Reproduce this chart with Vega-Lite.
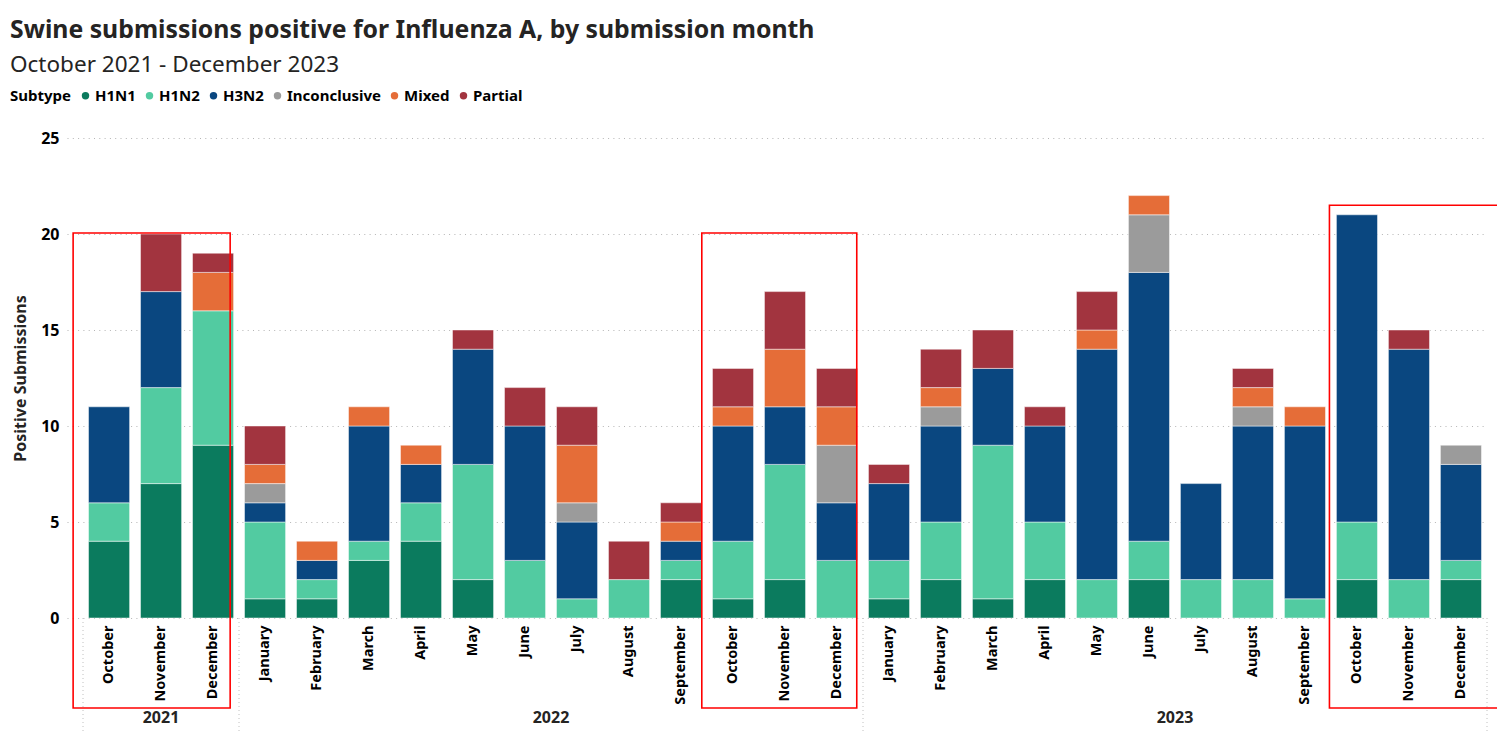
{
  "$schema": "https://vega.github.io/schema/vega-lite/v6.json",
  "autosize": "none",
  "width": 1420,
  "height": 480,
  "padding": {"left": 67, "top": 138, "right": 10, "bottom": 116},
  "background": "white",
  "config": {
    "view": {"stroke": null},
    "font": "Noto Sans",
    "title": {"anchor": "start", "frame": "group"}
  },
  "title": {
    "text": "Swine submissions positive for Influenza A, by submission month",
    "subtitle": "October 2021 - December 2023",
    "fontSize": 24.8,
    "fontWeight": "bold",
    "color": "#252423",
    "subtitleFontSize": 22.5,
    "subtitleColor": "#252423",
    "subtitleFontWeight": "normal",
    "subtitlePadding": 11,
    "dx": -57,
    "offset": 12
  },
  "datasets": {
    "bars": [
      {"period": "October 2021", "subtype": "H1N1", "count": 4},
      {"period": "October 2021", "subtype": "H1N2", "count": 2},
      {"period": "October 2021", "subtype": "H3N2", "count": 5},
      {"period": "November 2021", "subtype": "H1N1", "count": 7},
      {"period": "November 2021", "subtype": "H1N2", "count": 5},
      {"period": "November 2021", "subtype": "H3N2", "count": 5},
      {"period": "November 2021", "subtype": "Partial", "count": 3},
      {"period": "December 2021", "subtype": "H1N1", "count": 9},
      {"period": "December 2021", "subtype": "H1N2", "count": 7},
      {"period": "December 2021", "subtype": "Mixed", "count": 2},
      {"period": "December 2021", "subtype": "Partial", "count": 1},
      {"period": "January 2022", "subtype": "H1N1", "count": 1},
      {"period": "January 2022", "subtype": "H1N2", "count": 4},
      {"period": "January 2022", "subtype": "H3N2", "count": 1},
      {"period": "January 2022", "subtype": "Inconclusive", "count": 1},
      {"period": "January 2022", "subtype": "Mixed", "count": 1},
      {"period": "January 2022", "subtype": "Partial", "count": 2},
      {"period": "February 2022", "subtype": "H1N1", "count": 1},
      {"period": "February 2022", "subtype": "H1N2", "count": 1},
      {"period": "February 2022", "subtype": "H3N2", "count": 1},
      {"period": "February 2022", "subtype": "Mixed", "count": 1},
      {"period": "March 2022", "subtype": "H1N1", "count": 3},
      {"period": "March 2022", "subtype": "H1N2", "count": 1},
      {"period": "March 2022", "subtype": "H3N2", "count": 6},
      {"period": "March 2022", "subtype": "Mixed", "count": 1},
      {"period": "April 2022", "subtype": "H1N1", "count": 4},
      {"period": "April 2022", "subtype": "H1N2", "count": 2},
      {"period": "April 2022", "subtype": "H3N2", "count": 2},
      {"period": "April 2022", "subtype": "Mixed", "count": 1},
      {"period": "May 2022", "subtype": "H1N1", "count": 2},
      {"period": "May 2022", "subtype": "H1N2", "count": 6},
      {"period": "May 2022", "subtype": "H3N2", "count": 6},
      {"period": "May 2022", "subtype": "Partial", "count": 1},
      {"period": "June 2022", "subtype": "H1N2", "count": 3},
      {"period": "June 2022", "subtype": "H3N2", "count": 7},
      {"period": "June 2022", "subtype": "Partial", "count": 2},
      {"period": "July 2022", "subtype": "H1N2", "count": 1},
      {"period": "July 2022", "subtype": "H3N2", "count": 4},
      {"period": "July 2022", "subtype": "Inconclusive", "count": 1},
      {"period": "July 2022", "subtype": "Mixed", "count": 3},
      {"period": "July 2022", "subtype": "Partial", "count": 2},
      {"period": "August 2022", "subtype": "H1N2", "count": 2},
      {"period": "August 2022", "subtype": "Partial", "count": 2},
      {"period": "September 2022", "subtype": "H1N1", "count": 2},
      {"period": "September 2022", "subtype": "H1N2", "count": 1},
      {"period": "September 2022", "subtype": "H3N2", "count": 1},
      {"period": "September 2022", "subtype": "Mixed", "count": 1},
      {"period": "September 2022", "subtype": "Partial", "count": 1},
      {"period": "October 2022", "subtype": "H1N1", "count": 1},
      {"period": "October 2022", "subtype": "H1N2", "count": 3},
      {"period": "October 2022", "subtype": "H3N2", "count": 6},
      {"period": "October 2022", "subtype": "Mixed", "count": 1},
      {"period": "October 2022", "subtype": "Partial", "count": 2},
      {"period": "November 2022", "subtype": "H1N1", "count": 2},
      {"period": "November 2022", "subtype": "H1N2", "count": 6},
      {"period": "November 2022", "subtype": "H3N2", "count": 3},
      {"period": "November 2022", "subtype": "Mixed", "count": 3},
      {"period": "November 2022", "subtype": "Partial", "count": 3},
      {"period": "December 2022", "subtype": "H1N2", "count": 3},
      {"period": "December 2022", "subtype": "H3N2", "count": 3},
      {"period": "December 2022", "subtype": "Inconclusive", "count": 3},
      {"period": "December 2022", "subtype": "Mixed", "count": 2},
      {"period": "December 2022", "subtype": "Partial", "count": 2},
      {"period": "January 2023", "subtype": "H1N1", "count": 1},
      {"period": "January 2023", "subtype": "H1N2", "count": 2},
      {"period": "January 2023", "subtype": "H3N2", "count": 4},
      {"period": "January 2023", "subtype": "Partial", "count": 1},
      {"period": "February 2023", "subtype": "H1N1", "count": 2},
      {"period": "February 2023", "subtype": "H1N2", "count": 3},
      {"period": "February 2023", "subtype": "H3N2", "count": 5},
      {"period": "February 2023", "subtype": "Inconclusive", "count": 1},
      {"period": "February 2023", "subtype": "Mixed", "count": 1},
      {"period": "February 2023", "subtype": "Partial", "count": 2},
      {"period": "March 2023", "subtype": "H1N1", "count": 1},
      {"period": "March 2023", "subtype": "H1N2", "count": 8},
      {"period": "March 2023", "subtype": "H3N2", "count": 4},
      {"period": "March 2023", "subtype": "Partial", "count": 2},
      {"period": "April 2023", "subtype": "H1N1", "count": 2},
      {"period": "April 2023", "subtype": "H1N2", "count": 3},
      {"period": "April 2023", "subtype": "H3N2", "count": 5},
      {"period": "April 2023", "subtype": "Partial", "count": 1},
      {"period": "May 2023", "subtype": "H1N2", "count": 2},
      {"period": "May 2023", "subtype": "H3N2", "count": 12},
      {"period": "May 2023", "subtype": "Mixed", "count": 1},
      {"period": "May 2023", "subtype": "Partial", "count": 2},
      {"period": "June 2023", "subtype": "H1N1", "count": 2},
      {"period": "June 2023", "subtype": "H1N2", "count": 2},
      {"period": "June 2023", "subtype": "H3N2", "count": 14},
      {"period": "June 2023", "subtype": "Inconclusive", "count": 3},
      {"period": "June 2023", "subtype": "Mixed", "count": 1},
      {"period": "July 2023", "subtype": "H1N2", "count": 2},
      {"period": "July 2023", "subtype": "H3N2", "count": 5},
      {"period": "August 2023", "subtype": "H1N2", "count": 2},
      {"period": "August 2023", "subtype": "H3N2", "count": 8},
      {"period": "August 2023", "subtype": "Inconclusive", "count": 1},
      {"period": "August 2023", "subtype": "Mixed", "count": 1},
      {"period": "August 2023", "subtype": "Partial", "count": 1},
      {"period": "September 2023", "subtype": "H1N2", "count": 1},
      {"period": "September 2023", "subtype": "H3N2", "count": 9},
      {"period": "September 2023", "subtype": "Mixed", "count": 1},
      {"period": "October 2023", "subtype": "H1N1", "count": 2},
      {"period": "October 2023", "subtype": "H1N2", "count": 3},
      {"period": "October 2023", "subtype": "H3N2", "count": 16},
      {"period": "November 2023", "subtype": "H1N2", "count": 2},
      {"period": "November 2023", "subtype": "H3N2", "count": 12},
      {"period": "November 2023", "subtype": "Partial", "count": 1},
      {"period": "December 2023", "subtype": "H1N1", "count": 2},
      {"period": "December 2023", "subtype": "H1N2", "count": 1},
      {"period": "December 2023", "subtype": "H3N2", "count": 5},
      {"period": "December 2023", "subtype": "Inconclusive", "count": 1}
    ],
    "years": [
      {"year": "2021", "pos": 1.5, "level": -5.2},
      {"year": "2022", "pos": 9, "level": -5.2},
      {"year": "2023", "pos": 21, "level": -5.2}
    ],
    "dividers": [
      {"pos": 0, "from": 0, "to": -6.2},
      {"pos": 3, "from": 0, "to": -6.2},
      {"pos": 15, "from": 0, "to": -6.2},
      {"pos": 27, "from": 0, "to": -6.2}
    ],
    "highlights": [
      {"label": "Q4 2021", "start": -0.19, "end": 2.83, "low": -4.69, "high": 20.05},
      {"label": "Q4 2022", "start": 11.9, "end": 14.88, "low": -4.69, "high": 20.05},
      {"label": "Q4 2023", "start": 23.97, "end": 27.6, "low": -4.69, "high": 21.5}
    ]
  },
  "layer": [
    {
      "data": {"name": "bars"},
      "mark": {"type": "bar", "stroke": "white", "strokeWidth": 0.8, "strokeOpacity": 0.6},
      "encoding": {
        "x": {
          "field": "period",
          "type": "nominal",
          "sort": null,
          "scale": {"paddingInner": 0.21, "paddingOuter": 0.26, "align": 0.796},
          "axis": {
            "title": null,
            "labelAngle": 270,
            "labelExpr": "split(datum.value, ' ')[0]",
            "labelFontSize": 14.5,
            "labelFontWeight": "bold",
            "labelColor": "#000000",
            "labelPadding": 7,
            "ticks": false,
            "domain": false,
            "grid": false
          }
        },
        "y": {
          "field": "count",
          "type": "quantitative",
          "aggregate": "sum",
          "stack": "zero",
          "scale": {"domain": [0, 25], "nice": false},
          "axis": {
            "title": "Positive Submissions",
            "titleFontSize": 16,
            "titleFontWeight": "bold",
            "titleColor": "#252423",
            "titlePadding": 12,
            "values": [0, 5, 10, 15, 20, 25],
            "labelFontSize": 16,
            "labelFontWeight": "bold",
            "labelColor": "#000000",
            "labelPadding": 8,
            "ticks": false,
            "domain": false,
            "grid": true,
            "gridColor": "#B5B5B5",
            "gridDash": [1, 4.3],
            "gridWidth": 1.2
          }
        },
        "color": {
          "field": "subtype",
          "type": "nominal",
          "scale": {
            "domain": ["H1N1", "H1N2", "H3N2", "Inconclusive", "Mixed", "Partial"],
            "range": ["#0B7B5E", "#52CBA1", "#0A4780", "#9B9B9B", "#E56D38", "#A2343F"]
          },
          "legend": {
            "title": "Subtype",
            "orient": "none",
            "legendX": -57,
            "legendY": -50,
            "direction": "horizontal",
            "titleOrient": "left",
            "titleFontSize": 15,
            "titleFontWeight": "bold",
            "titleColor": "#000000",
            "titlePadding": 6,
            "labelFontSize": 15,
            "labelFontWeight": "bold",
            "labelColor": "#000000",
            "labelOffset": 2,
            "symbolType": "circle",
            "symbolSize": 55,
            "symbolStrokeWidth": 0,
            "columnPadding": 6
          }
        },
        "order": {"field": "subtype", "sort": "ascending"}
      }
    },
    {
      "layer": [
        {
          "data": {"name": "dividers"},
          "mark": {"type": "rule", "color": "#C0C0C0", "strokeDash": [1, 3], "strokeWidth": 1},
          "encoding": {
            "x": {"field": "pos", "type": "quantitative", "scale": {"domain": [-0.3077, 27.0], "nice": false, "zero": false}, "axis": null},
            "y": {"field": "from", "type": "quantitative"},
            "y2": {"field": "to"}
          }
        },
        {
          "data": {"name": "years"},
          "mark": {"type": "text", "fontSize": 16, "fontWeight": "bold", "color": "#252423", "baseline": "middle"},
          "encoding": {
            "x": {"field": "pos", "type": "quantitative"},
            "y": {"field": "level", "type": "quantitative"},
            "text": {"field": "year"}
          }
        },
        {
          "data": {"name": "highlights"},
          "mark": {"type": "rect", "fill": null, "fillOpacity": 0, "stroke": "#FF0000", "strokeWidth": 1.6},
          "encoding": {
            "x": {"field": "start", "type": "quantitative"},
            "x2": {"field": "end"},
            "y": {"field": "low", "type": "quantitative"},
            "y2": {"field": "high"}
          }
        }
      ]
    }
  ],
  "resolve": {"scale": {"x": "independent"}, "axis": {"x": "independent"}}
}
